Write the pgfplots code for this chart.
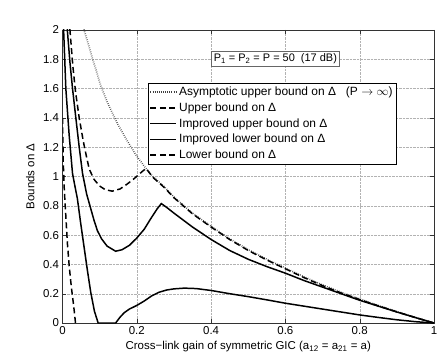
\documentclass[border=0pt]{standalone}
\usepackage{fontspec}
\setmainfont{Liberation Sans}
\usepackage{pgfplots}
\pgfplotsset{compat=1.18}

\begin{document}
\begin{tikzpicture}
\begin{axis}[
    scale only axis, width=371.5bp, height=293bp,
    xmin=0, xmax=1, ymin=0, ymax=2,
    xtick={0,0.2,0.4,0.6,0.8,1},
    ytick={0,0.2,0.4,0.6,0.8,1,1.2,1.4,1.6,1.8,2},
    /pgf/number format/assume math mode=true,
    font=\fontsize{11.5}{13}\selectfont,
    tick label style={font=\fontsize{11.5}{13}\selectfont},
    tick align=inside, major tick length=4bp,
    tick style={black!80, line width=0.4pt},
    axis line style={black!80, line width=0.5pt},
    grid=major, grid style={gray!60, densely dotted, line width=0.4pt},
    xlabel={Cross−link gain of symmetric GIC (a\textsubscript{12} = a\textsubscript{21} = a)},
    ylabel={Bounds on Δ},
    xlabel style={at={(axis description cs:0.5,-0.082)}, anchor=center},
    ylabel style={at={(axis description cs:-0.066,0.5)}, anchor=south},
    legend style={at={(rel axis cs:0.229,0.819)}, anchor=north west,
        draw=black, line width=0.5pt, inner sep=1.8pt,
        font=\fontsize{12}{13}\selectfont, row sep=1.6pt,
        cells={anchor=west}},
    legend image code/.code={\draw[#1] (0bp,0bp) -- (26bp,0bp);},
    legend cell align=left,
]
% asymptotic upper bound (P -> infinity)
\addplot[black!75, line width=1.6pt, dash pattern=on 0.6bp off 1.5bp] coordinates {
  (0.05,2.16)(0.058,2.0)(0.07,1.9)(0.08,1.81)(0.09,1.73)(0.103,1.62)
  (0.12,1.51)(0.148,1.36)(0.175,1.24)(0.197,1.15)(0.22,1.07)(0.243,1.0)
  (0.274,0.93)(0.3,0.86)(0.35,0.75)(0.4,0.66)(0.45,0.575)(0.5,0.5)
  (0.55,0.435)(0.6,0.375)(0.65,0.315)(0.7,0.26)(0.75,0.21)(0.8,0.165)
  (0.85,0.12)(0.9,0.078)(0.95,0.038)(1,0)};
\addlegendentry{Asymptotic upper bound on Δ \ \ (P $\rightarrow \infty$)}
% upper bound
\addplot[black, line width=1.5pt, dash pattern=on 6bp off 3.5bp] coordinates {
  (0.015,2.2)(0.02,2.0)(0.028,1.75)(0.035,1.58)(0.045,1.4)(0.056,1.24)
  (0.065,1.13)(0.072,1.05)(0.085,0.98)(0.1,0.935)(0.115,0.91)(0.134,0.90)
  (0.155,0.915)(0.175,0.95)(0.195,0.99)(0.215,1.035)(0.225,1.055)
  (0.243,0.995)(0.274,0.925)(0.3,0.855)(0.35,0.745)(0.4,0.655)(0.45,0.57)
  (0.5,0.495)(0.55,0.43)(0.6,0.37)(0.65,0.31)(0.7,0.255)(0.75,0.205)
  (0.8,0.16)(0.85,0.117)(0.9,0.076)(0.95,0.037)(1,0)};
\addlegendentry{Upper bound on Δ}
% improved upper bound
\addplot[black, line width=1.5pt] coordinates {
  (0.008,2.2)(0.013,2.0)(0.02,1.78)(0.027,1.6)(0.035,1.42)(0.045,1.2)
  (0.054,1.02)(0.065,0.88)(0.075,0.79)(0.085,0.7)(0.094,0.63)(0.105,0.575)
  (0.12,0.525)(0.143,0.49)(0.16,0.5)(0.18,0.53)(0.2,0.58)(0.22,0.64)
  (0.237,0.71)(0.255,0.78)(0.266,0.815)(0.28,0.79)(0.3,0.75)(0.35,0.655)
  (0.4,0.57)(0.45,0.495)(0.5,0.435)(0.55,0.385)(0.6,0.34)(0.65,0.29)
  (0.7,0.245)(0.75,0.2)(0.8,0.155)(0.85,0.115)(0.9,0.075)(0.95,0.037)(1,0)};
\addlegendentry{Improved upper bound on Δ}
% improved lower bound
\addplot[black, line width=1.5pt] coordinates {
  (0.001,2.2)(0.003,2.0)(0.009,1.6)(0.018,1.28)(0.027,1.02)(0.033,0.94)
  (0.04,0.85)(0.049,0.68)(0.058,0.52)(0.067,0.36)(0.076,0.21)(0.086,0.08)
  (0.096,0.0)(0.143,0.0)(0.155,0.04)(0.166,0.07)(0.18,0.095)(0.2,0.12)
  (0.22,0.15)(0.24,0.185)(0.26,0.21)(0.28,0.225)(0.3,0.233)(0.328,0.238)
  (0.36,0.235)(0.4,0.222)(0.45,0.2)(0.5,0.18)(0.55,0.158)(0.6,0.135)
  (0.65,0.115)(0.7,0.095)(0.75,0.075)(0.8,0.055)(0.85,0.038)(0.9,0.022)
  (0.95,0.009)(1,0)};
\addlegendentry{Improved lower bound on Δ}
% lower bound
\addplot[black, line width=1.5pt, dash pattern=on 6bp off 3.5bp] coordinates {
  (0,1.4)(0.002,1.1)(0.005,0.9)(0.009,0.73)(0.013,0.55)(0.018,0.39)
  (0.024,0.24)(0.03,0.12)(0.035,0.0)};
\addlegendentry{Lower bound on Δ}
\node[draw=black!60, fill=white, line width=0.5pt, inner sep=2.5pt,
      font=\fontsize{11}{12}\selectfont]
  at (axis cs:0.573,1.802) {P\textsubscript{1} = P\textsubscript{2} = P = 50 \ (17 dB)};
\end{axis}
\path ([shift={(-62.5bp,-36bp)}]current axis.south west)
   rectangle ([shift={(7bp,30bp)}]current axis.north east);
\end{tikzpicture}
\end{document}
